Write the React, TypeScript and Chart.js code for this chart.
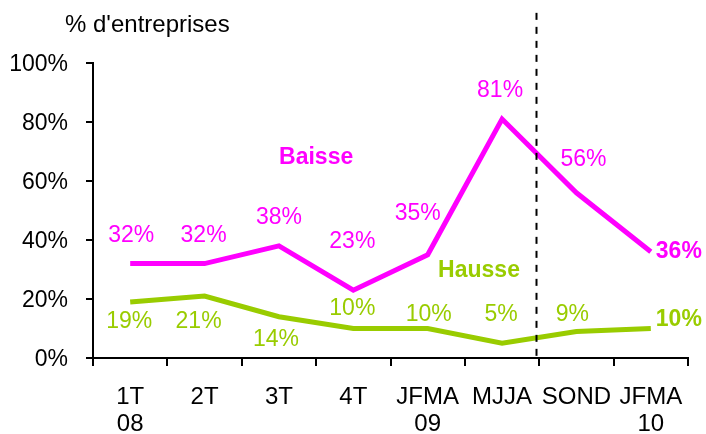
import React, { useEffect, useRef } from "react";
import { Chart, registerables } from "chart.js";

Chart.register(...registerables);

const categories: (string | string[])[] = [["1T", "08"], "2T", "3T", "4T", ["JFMA", "09"], "MJJA", "SOND", ["JFMA", "10"]];
const baisse = [32, 32, 38, 23, 35, 81, 56, 36];
const hausse = [19, 21, 14, 10, 10, 5, 9, 10];
const yTicks = [0, 20, 40, 60, 80, 100];
const yTitle = "% d'entreprises";
const seriesNames = ["Baisse", "Hausse"];

// label placement (pixel offsets from each point): [dx, dy]
const baisseLabelOffsets = [[1, -28], [-1, -28], [0, -28], [-1, -48], [-10, -41], [-2, -28], [7, -33], [5, 0]];
const hausseLabelOffsets = [[-1, 20], [-6, 26], [-3, 23], [-1, -20], [1, -14], [-1, -29], [-4, -17], [5, -9]];
// series name anchors in data units [categoryIndex, value]
const nameAnchors = [[2.5, 67.8], [4.69, 29.5]];
const separatorIndex = 5.46;
const separatorTopValue = 117;

const MAGENTA = "#FF00FF";
const GREEN = "#99CC00";
const FONT = "'Liberation Sans', Arial, sans-serif";
const FS = 23;
const FS_X = 24;

const overlayPlugin = {
  id: "overlay",
  afterDatasetsDraw(chart: any) {
    const ctx = chart.ctx;
    const xs = chart.scales.x;
    const ys = chart.scales.y;
    ctx.save();
    // separator
    const sx = Math.round(xs.getPixelForValue(separatorIndex)) + 0.5;
    ctx.strokeStyle = "#000";
    ctx.lineWidth = 2;
    ctx.setLineDash([7, 7]);
    ctx.beginPath();
    ctx.moveTo(sx, ys.getPixelForValue(separatorTopValue));
    ctx.lineTo(sx, ys.getPixelForValue(0));
    ctx.stroke();
    ctx.setLineDash([]);

    // data labels
    const series = [
      { data: baisse, offs: baisseLabelOffsets, color: MAGENTA },
      { data: hausse, offs: hausseLabelOffsets, color: GREEN },
    ];
    ctx.textBaseline = "middle";
    series.forEach((s) => {
      s.data.forEach((v, i) => {
        const px = xs.getPixelForValue(i);
        const py = ys.getPixelForValue(v);
        const last = i === s.data.length - 1;
        ctx.fillStyle = s.color;
        ctx.font = `${last ? "bold " : ""}${FS}px ${FONT}`;
        ctx.textAlign = last ? "left" : "center";
        ctx.fillText(`${v}%`, px + s.offs[i][0], py + s.offs[i][1]);
      });
    });

    // series names
    ctx.font = `bold ${FS}px ${FONT}`;
    ctx.textAlign = "center";
    [MAGENTA, GREEN].forEach((c, k) => {
      ctx.fillStyle = c;
      ctx.fillText(seriesNames[k], xs.getPixelForValue(nameAnchors[k][0]), ys.getPixelForValue(nameAnchors[k][1]));
    });

    // y title
    ctx.fillStyle = "#000";
    ctx.font = `24px ${FONT}`;
    ctx.textAlign = "left";
    ctx.textBaseline = "alphabetic";
    ctx.fillText(yTitle, 65, 32);
    ctx.restore();
  },
};

export default function App() {
  const ref = useRef<HTMLCanvasElement | null>(null);
  useEffect(() => {
    if (!ref.current) return;
    const chart = new Chart(ref.current, {
      type: "line",
      data: {
        labels: categories,
        datasets: [
          { label: seriesNames[0], data: baisse, borderColor: MAGENTA, borderWidth: 5, pointRadius: 0, tension: 0 },
          { label: seriesNames[1], data: hausse, borderColor: GREEN, borderWidth: 5, pointRadius: 0, tension: 0 },
        ],
      },
      options: {
        animation: false,
        responsive: false,
        layout: { padding: { top: 63, right: 18, left: 0, bottom: 0 } },
        plugins: { legend: { display: false }, tooltip: { enabled: false } },
        scales: {
          x: {
            offset: true,
            grid: { display: true, offset: true, drawOnChartArea: false, drawTicks: true, tickLength: 8, color: "#000", lineWidth: 2 },
            border: { display: true, color: "#000", width: 2 },
            ticks: { color: "#000", font: { family: FONT, size: FS_X, lineHeight: 27 / FS_X }, padding: 18, maxRotation: 0, autoSkip: false },
            afterFit: (s: any) => { s.height = 76; },
          },
          y: {
            min: 0,
            max: 100,
            afterBuildTicks: (s: any) => { s.ticks = yTicks.map((v) => ({ value: v })); },
            grid: { display: true, drawOnChartArea: false, drawTicks: true, tickLength: 7, color: "#000", lineWidth: 2 },
            border: { display: true, color: "#000", width: 2 },
            ticks: { color: "#000", font: { family: FONT, size: FS }, padding: 18, labelOffset: 2, callback: (v: any) => `${v}%` },
            afterFit: (s: any) => { s.width = 93; },
          },
        },
      },
      plugins: [overlayPlugin],
    });
    return () => chart.destroy();
  }, []);
  return (
    <div style={{ position: "absolute", left: 0, top: 0, width: 706, height: 434, background: "#fff" }}>
      <canvas ref={ref} width={706} height={434} />
    </div>
  );
}
